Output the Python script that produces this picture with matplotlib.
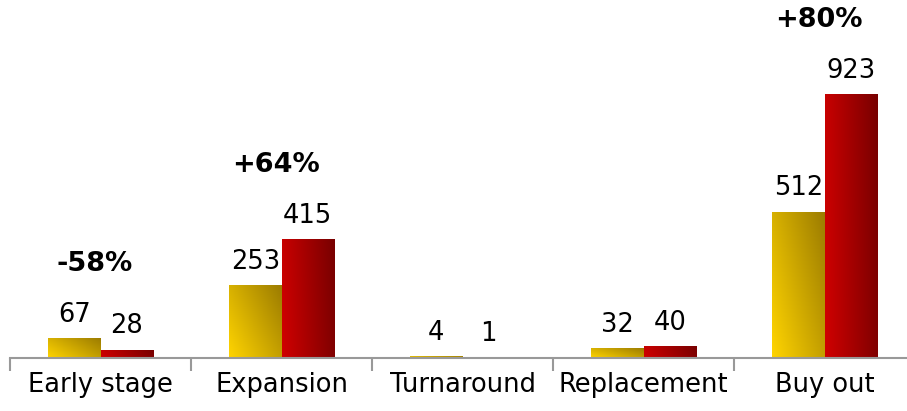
import numpy as np
import matplotlib.pyplot as plt
from matplotlib.colors import to_rgb

# Дані
categories = ['Early stage', 'Expansion', 'Turnaround', 'Replacement', 'Buy out']
values_prev = [67, 253, 4, 32, 512]
values_curr = [28, 415, 1, 40, 923]
changes = ['-58%', '+64%', None, None, '+80%']

W, H = 907, 411
fig = plt.figure(figsize=(W / 100, H / 100), dpi=100)
ax = fig.add_axes([10 / W, 53 / H, 905 / W, 358 / H])

bar_w = 0.29
x = np.arange(len(categories))


def gradient_bar(x0, h, c_light, c_dark, wx, wy):
    # Стовпчик з градієнтом (світлий внизу зліва, темний вгорі справа)
    if h <= 0:
        return
    n = 64
    xs = np.linspace(0, 1, n)
    ys = np.linspace(1, 0, n)
    gx, gy = np.meshgrid(xs, ys)
    t = np.clip(wx * gx + wy * gy, 0, 1)[..., None]
    a = np.array(to_rgb(c_light))
    b = np.array(to_rgb(c_dark))
    img = a * (1 - t) + b * t
    ax.imshow(img, extent=(x0, x0 + bar_w, 0, h), aspect='auto',
              interpolation='bilinear', zorder=2)


for i in range(len(categories)):
    gradient_bar(x[i] - bar_w, values_prev[i], '#FFD400', '#9C7C00', 0.6, 0.4)
    gradient_bar(x[i], values_curr[i], '#D00000', '#780000', 0.9, 0.1)
    ax.text(x[i] - bar_w / 2, values_prev[i] + 38, str(values_prev[i]),
            ha='center', va='bottom', fontsize=18.5, zorder=3)
    ax.text(x[i] + bar_w / 2, values_curr[i] + 38, str(values_curr[i]),
            ha='center', va='bottom', fontsize=18.5, zorder=3)
    if changes[i]:
        top = max(values_prev[i], values_curr[i])
        ax.text(x[i] - 0.03, top + 262, changes[i], ha='center', va='center',
                fontsize=19.5, fontweight='bold')

ax.set_xlim(-0.5, len(categories) - 0.5)
ax.set_ylim(0, 1256)

for s in ['top', 'right', 'left']:
    ax.spines[s].set_visible(False)
ax.spines['bottom'].set_color('#999999')
ax.spines['bottom'].set_linewidth(1.5)
ax.set_yticks([])

ax.set_xticks(x)
ax.set_xticklabels(categories, fontsize=18.5)
ax.tick_params(axis='x', which='major', length=0, pad=10)
ax.set_xticks(np.arange(-0.5, len(categories)), minor=True)
ax.tick_params(axis='x', which='minor', length=9, width=1.5, color='#999999')

fig.savefig('out.png', dpi=100)
